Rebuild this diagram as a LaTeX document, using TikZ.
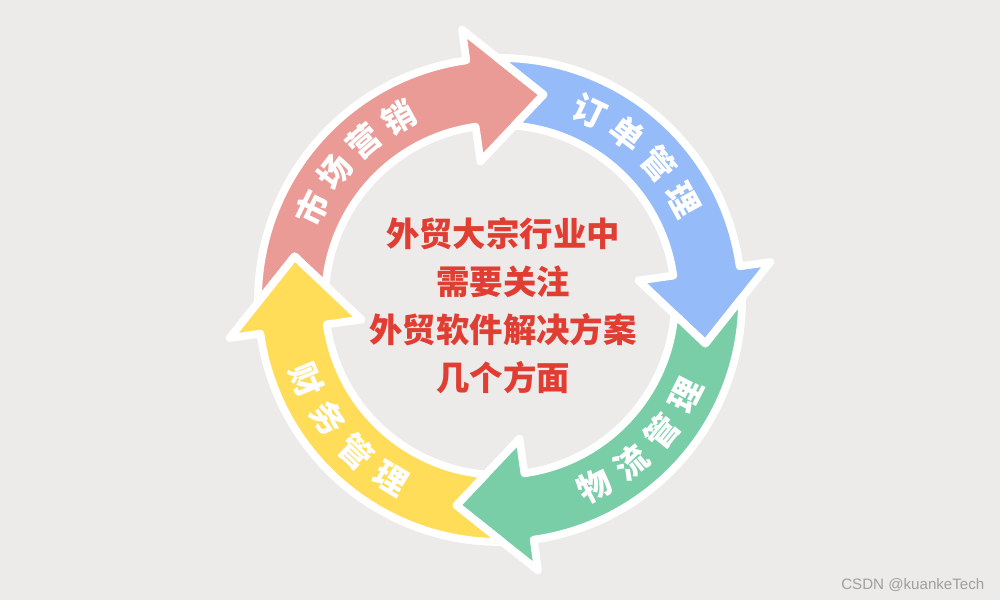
\documentclass[tikz,border=0pt]{standalone}
\usepackage{fontspec}
\newfontfamily\cjk{Noto Sans CJK SC}
\setsansfont{Liberation Sans}
\usetikzlibrary{calc}
\definecolor{bgpaper}{RGB}{236,235,234}
\definecolor{pinkarr}{RGB}{235,155,150}
\definecolor{bluearr}{RGB}{149,187,249}
\definecolor{greenarr}{RGB}{121,206,168}
\definecolor{yellowarr}{RGB}{255,221,88}
\definecolor{titlered}{RGB}{224,62,50}

\begin{document}
\begin{tikzpicture}[
    ringarrow/.style={draw=white,line width=2.2pt,line join=round},
    arclabel/.style={text=white,inner sep=0pt,font=\cjk\bfseries\fontsize{9.4}{10}\selectfont},
    font=\small
  ]
  \fill[bgpaper] (0,0) rectangle (10,6);
  \coordinate (c) at (5,3);

  %% the four arrows of the ring (head base angle / colour)
  \foreach \b/\col in {98/pinkarr,8/bluearr,-82/greenarr,-172/yellowarr}{
    \filldraw[ringarrow,fill=\col,shift={(c)}]
      ({\b+82.56}:2.42) arc[start angle={\b+82.56},end angle=\b,radius=2.42]
      -- (\b:2.73) -- ({\b-20}:2.10) -- (\b:1.40) -- (\b:1.75)
      arc[start angle=\b,end angle={\b+77.3},radius=1.75]
      -- ({\b+70}:2.10) -- cycle;
  }

  %% labels along the ring
  \foreach \ch [count=\k] in {市,场,营,销}
    \node[arclabel,rotate={154-11.7*(\k-1)-90}] (mkt\k) at ($(c)+({154-11.7*(\k-1)}:2.09)$) {\ch};
  \foreach \ch [count=\k] in {订,单,管,理}
    \node[arclabel,rotate={64.6-12*(\k-1)-90}] (ord\k) at ($(c)+({64.6-12*(\k-1)}:2.09)$) {\ch};
  \foreach \ch [count=\k] in {物,流,管,理}
    \node[arclabel,rotate={-63+12*(\k-1)+90}] (log\k) at ($(c)+({-63+12*(\k-1)}:2.09)$) {\ch};
  \foreach \ch [count=\k] in {财,务,管,理}
    \node[arclabel,rotate={202.5+12*(\k-1)+90}] (fin\k) at ($(c)+({202.5+12*(\k-1)}:2.09)$) {\ch};

  %% centre text
  \node[align=center,text=titlered,font=\cjk\bfseries\fontsize{9.5}{13.6}\selectfont] (title) at (5.03,2.945)
    {外贸大宗行业中\\需要关注\\外贸软件解决方案\\几个方面};

  %% watermark
  \node[anchor=east,inner sep=0pt,text=gray!75,font=\sffamily\fontsize{4.3}{5}\selectfont] (mark) at (9.85,0.15) {CSDN @kuankeTech};
\end{tikzpicture}
\end{document}
